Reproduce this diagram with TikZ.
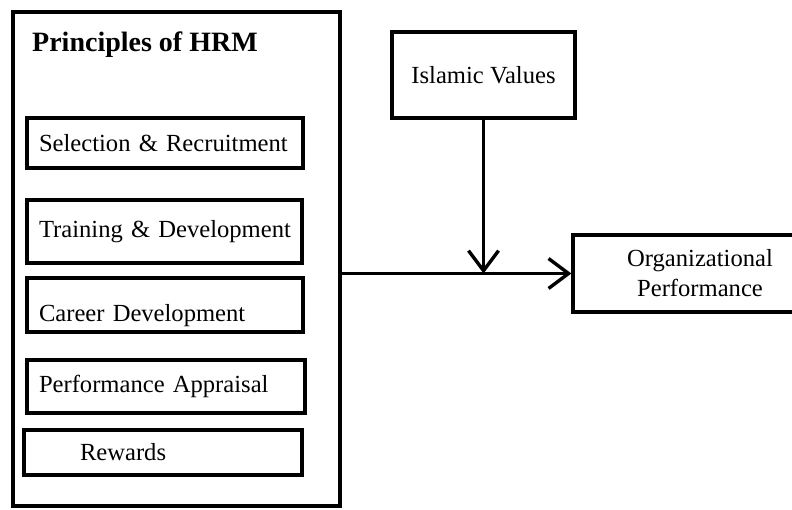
\documentclass[tikz,border=0pt]{standalone}
\usepackage{fontspec}
\setmainfont{Liberation Serif}
\usetikzlibrary{arrows.meta}
\begin{document}
\begin{tikzpicture}[x=1pt,y=-1pt]
		\tikzset{>={Straight Barb[length=20pt,width=30pt]}}
		\tikzset{box/.style={draw,line width=3.2pt,rectangle,inner xsep=12pt,inner ysep=0pt},
			item/.style={box,align=left,font=\fontsize{24.6}{30}\selectfont},
			flow/.style={->,line width=3.4pt}}
		\clip (0,0) rectangle (792,510);
		\fill[white] (0,0) rectangle (792,510);
		% the big HRM frame
		\node[box,minimum width=327pt,minimum height=494pt] (hrm) at (176.5,259) {};
		\node[anchor=base west,inner sep=0pt,font=\fontsize{28}{32}\selectfont\bfseries] (title) at (32,52) {Principles of HRM};
		\node[item,text width=252pt,minimum height=50pt] (sel) at (165,143) {\mbox{Selection \& Recruitment}};
		\node[item,text width=251pt,minimum height=63pt] (train) at (164.5,231.5) {\mbox{Training \& Development}};
		\node[item,text width=252pt,minimum height=54pt,text height=36pt,text depth=2pt] (career) at (165,305) {\mbox{Career Development}};
		\node[item,text width=254pt,minimum height=53pt] (appr) at (166,386.5) {\mbox{Performance Appraisal}};
		\node[item,text width=254pt,minimum height=45pt] (rew) at (163,452.5) {\hspace*{44pt}Rewards};
		% moderator and outcome
		\node[item,align=center,inner xsep=0pt,minimum width=183pt,minimum height=86pt] (islam) at (483.5,75) {Islamic Values};
		\node[item,align=center,inner xsep=0pt,minimum width=254pt,minimum height=77pt] (perf) at (700,273.5) {Organizational\\Performance};
		\draw[flow] (hrm.east |- perf.west) -- (perf.west);
		\draw[flow] (islam.south) -- (islam.south |- perf.west);
	    \end{tikzpicture}
\end{document}
